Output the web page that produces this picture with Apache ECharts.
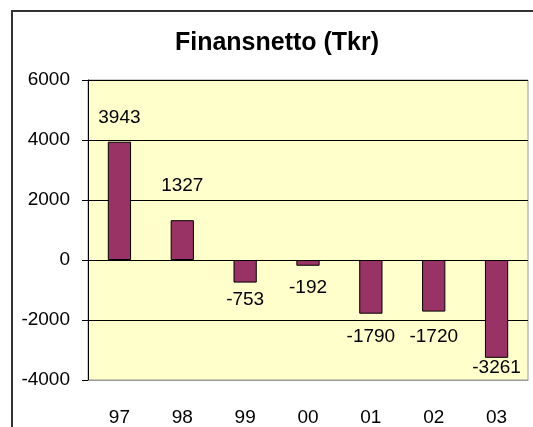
<!DOCTYPE html>
<html>
<head>
<meta charset="utf-8">
<script src="https://cdn.jsdelivr.net/npm/echarts@6/dist/echarts.min.js"></script>
<style>
  html, body { margin: 0; padding: 0; background: #fff; }
  #chart { width: 533px; height: 427px; }
</style>
</head>
<body>
<div id="chart"></div>
<script>
const years = ['97', '98', '99', '00', '01', '02', '03']
const finansnetto = [3943, 1327, -753, -192, -1790, -1720, -3261]
const yTicks = { min: -4000, max: 6000, interval: 2000 }

// gap between bar end and its value label, per bar
const labelGaps = [14, 25, 8, 13, 14, 16, 0]

const chart = echarts.init(document.getElementById('chart'))
const font = 'Liberation Sans, Arial, sans-serif'

chart.setOption({
  animation: false,
  title: {
    text: 'Finansnetto (Tkr)',
    left: 272,
    textAlign: 'center',
    top: 26,
    textStyle: { fontFamily: font, fontSize: 25, fontWeight: 'bold', color: '#000' }
  },
  graphic: [
    {
      type: 'rect',
      shape: { x: 12, y: 11, width: 600, height: 500 },
      style: { fill: 'none', stroke: '#333', lineWidth: 2 },
      z: 0
    }
  ],
  grid: {
    left: 88,
    right: 5,
    top: 80,
    bottom: 47,
    show: true,
    backgroundColor: '#FFFFCC',
    borderColor: '#999',
    borderWidth: 1
  },
  xAxis: {
    type: 'category',
    data: years,
    axisLine: { onZero: false, lineStyle: { color: '#999' } },
    axisTick: { show: false },
    axisLabel: { fontFamily: font, fontSize: 19, color: '#000', margin: 28 }
  },
  yAxis: {
    type: 'value',
    min: yTicks.min,
    max: yTicks.max,
    interval: yTicks.interval,
    axisLine: { show: true, lineStyle: { color: '#000' } },
    axisTick: { show: true, length: 6, lineStyle: { color: '#000' } },
    axisLabel: {
      fontFamily: font,
      fontSize: 19,
      color: '#000',
      margin: 18,
      formatter: (v) => String(v)
    },
    splitLine: { lineStyle: { color: '#000', width: 1 } }
  },
  series: [
    {
      type: 'bar',
      data: finansnetto.map((v, i) => ({
        value: v,
        label: { position: v >= 0 ? 'top' : 'bottom', distance: labelGaps[i] }
      })),
      barWidth: '37%',
      itemStyle: { color: '#993366', borderColor: '#000', borderWidth: 1 },
      label: {
        show: true,
        fontFamily: font,
        fontSize: 19,
        color: '#000'
      }
    }
  ]
})
</script>
</body>
</html>
